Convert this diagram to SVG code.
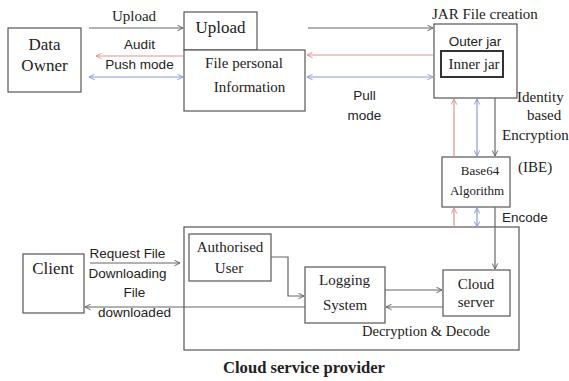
<svg xmlns="http://www.w3.org/2000/svg" width="569" height="381" viewBox="0 0 569 381">
<defs>
<style>
.box{fill:#fff;stroke:#555;stroke-width:1.2}
.s{font-family:"Liberation Serif","Times New Roman",serif;fill:#222}
.a{font-family:"Liberation Sans",Arial,sans-serif;fill:#222;font-size:13.5px}
.g{fill:none;stroke:#666;stroke-width:1.2}
.r{fill:none;stroke:#e49090;stroke-width:1.2}
.b{fill:none;stroke:#8c9ad6;stroke-width:1.2}
</style>
<marker id="mg" viewBox="0 0 10 10" refX="9" refY="5" markerWidth="7" markerHeight="7" orient="auto-start-reverse" markerUnits="userSpaceOnUse"><path d="M1,1 L9,5 L1,9" fill="none" stroke="#666" stroke-width="1.4"/></marker>
<marker id="mr" viewBox="0 0 10 10" refX="9" refY="5" markerWidth="7" markerHeight="7" orient="auto-start-reverse" markerUnits="userSpaceOnUse"><path d="M1,1 L9,5 L1,9" fill="none" stroke="#e49090" stroke-width="1.4"/></marker>
<marker id="mb" viewBox="0 0 10 10" refX="9" refY="5" markerWidth="7" markerHeight="7" orient="auto-start-reverse" markerUnits="userSpaceOnUse"><path d="M1,1 L9,5 L1,9" fill="none" stroke="#8c9ad6" stroke-width="1.4"/></marker>
</defs>
<rect width="569" height="381" fill="#fff"/>

<g id="cloud-provider">
<rect class="box" x="184" y="227" width="335" height="123"/>
<text class="s" x="362" y="336" font-size="14.5">Decryption &amp; Decode</text>
<text class="s" x="304" y="373" font-size="16" font-weight="bold" text-anchor="middle" textLength="162" lengthAdjust="spacingAndGlyphs">Cloud service provider</text>
</g>

<g id="data-owner">
<rect class="box" x="8" y="28" width="73" height="64"/>
<text class="s" x="44.5" y="50" font-size="17" text-anchor="middle">Data</text>
<text class="s" x="44.5" y="71" font-size="17" text-anchor="middle">Owner</text>
</g>

<g id="upload">
<rect class="box" x="184" y="12" width="73" height="38"/>
<text class="s" x="220.5" y="33" font-size="17" text-anchor="middle">Upload</text>
</g>

<g id="file-info">
<rect class="box" x="184" y="50" width="121" height="61"/>
<text class="s" x="244" y="68" font-size="15" text-anchor="middle">File personal</text>
<text class="s" x="249.5" y="92" font-size="15" text-anchor="middle">Information</text>
</g>

<g id="jar">
<text class="s" x="432" y="19" font-size="15">JAR File creation</text>
<rect class="box" x="434" y="24" width="83" height="74"/>
<text class="a" x="475" y="46" text-anchor="middle">Outer jar</text>
<rect x="441" y="51" width="62" height="26" fill="#fff" stroke="#333" stroke-width="2"/>
<text class="s" x="474" y="69" font-size="15" text-anchor="middle">Inner jar</text>
</g>

<g id="base64">
<rect class="box" x="442" y="157" width="68" height="50"/>
<text class="s" x="480" y="175" font-size="13" text-anchor="middle">Base64</text>
<text class="s" x="477" y="195" font-size="13" text-anchor="middle">Algorithm</text>
</g>

<g id="client">
<rect class="box" x="23" y="254" width="61" height="59"/>
<text class="s" x="53" y="274" font-size="17" text-anchor="middle">Client</text>
</g>

<g id="authorised-user">
<rect class="box" x="189" y="234" width="82" height="47"/>
<text class="s" x="230" y="252" font-size="15" text-anchor="middle">Authorised</text>
<text class="s" x="229" y="273" font-size="15" text-anchor="middle">User</text>
</g>

<g id="logging-system">
<rect class="box" x="305" y="267" width="80" height="56"/>
<text class="s" x="344.5" y="285" font-size="15" text-anchor="middle">Logging</text>
<text class="s" x="345" y="310" font-size="15" text-anchor="middle">System</text>
</g>

<g id="cloud-server">
<rect class="box" x="443" y="270" width="67" height="46"/>
<text class="s" x="476" y="289" font-size="15" text-anchor="middle">Cloud</text>
<text class="s" x="476" y="307" font-size="15" text-anchor="middle">server</text>
</g>

<g id="connectors">
<line class="g" x1="89" y1="28" x2="183" y2="28" marker-end="url(#mg)"/>
<line class="r" x1="96" y1="56" x2="183" y2="56" marker-start="url(#mr)"/>
<line class="b" x1="89" y1="77" x2="183" y2="77" marker-start="url(#mb)" marker-end="url(#mb)"/>
<line class="g" x1="308" y1="28" x2="433" y2="28" marker-end="url(#mg)"/>
<line class="r" x1="307" y1="55" x2="433" y2="55" marker-start="url(#mr)"/>
<line class="b" x1="307" y1="77" x2="433" y2="77" marker-start="url(#mb)" marker-end="url(#mb)"/>
<line class="r" x1="454" y1="157" x2="454" y2="99" marker-end="url(#mr)"/>
<line class="b" x1="477" y1="99" x2="477" y2="156" marker-start="url(#mb)" marker-end="url(#mb)"/>
<line class="g" x1="495" y1="98" x2="495" y2="156" marker-end="url(#mg)"/>
<line class="r" x1="454" y1="227" x2="454" y2="208" marker-end="url(#mr)"/>
<line class="b" x1="477" y1="208" x2="477" y2="227" marker-start="url(#mb)" marker-end="url(#mb)"/>
<line class="g" x1="495" y1="207" x2="495" y2="269" marker-end="url(#mg)"/>
<polyline class="g" points="271,257 288,257 288,296 304,296" marker-end="url(#mg)"/>
<line class="g" x1="385" y1="290" x2="442" y2="290" marker-end="url(#mg)"/>
<line class="g" x1="443" y1="307" x2="386" y2="307" marker-end="url(#mg)"/>
<line class="g" x1="90" y1="263" x2="180" y2="263" marker-end="url(#mg)"/>
<line class="g" x1="305" y1="307" x2="85" y2="307" marker-end="url(#mg)"/>
</g>

<g id="labels">
<text class="s" x="134" y="21" font-size="15" text-anchor="middle">Upload</text>
<text class="a" x="139.5" y="49" text-anchor="middle">Audit</text>
<text class="a" x="139.5" y="69" text-anchor="middle">Push mode</text>
<text class="a" x="364.5" y="100" text-anchor="middle">Pull</text>
<text class="a" x="364.5" y="120" text-anchor="middle">mode</text>
<text class="s" x="517" y="102" font-size="15">Identity</text>
<text class="s" x="527" y="120" font-size="15">based</text>
<text class="s" x="502" y="140" font-size="15">Encryption</text>
<text class="s" x="518" y="172" font-size="15">(IBE)</text>
<text class="a" x="502" y="222">Encode</text>
<text class="a" x="127.5" y="258" text-anchor="middle">Request File</text>
<text class="a" x="127.5" y="278" text-anchor="middle">Downloading</text>
<text class="a" x="134.5" y="297" text-anchor="middle">File</text>
<text class="a" x="134.5" y="317" text-anchor="middle">downloaded</text>
</g>
</svg>
